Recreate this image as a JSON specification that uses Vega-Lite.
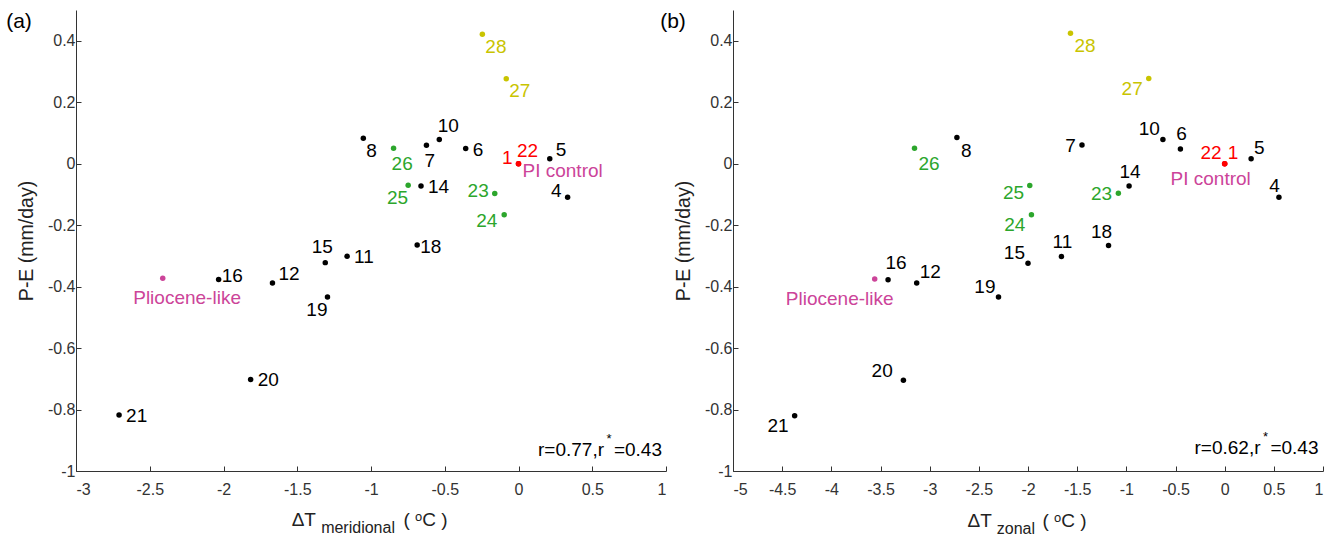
{
  "$schema": "https://vega.github.io/schema/vega-lite/v6.json",
  "autosize": {"type": "pad"},
  "padding": {"left": 6, "top": 10, "right": 5, "bottom": 5},
  "background": "white",
  "config": {
    "view": {"stroke": null},
    "font": "Liberation Sans",
    "text": {"font": "Liberation Sans"},
    "axis": {
      "grid": false,
      "domainColor": "#333333",
      "tickColor": "#333333",
      "labelColor": "#333333",
      "labelFont": "Liberation Sans",
      "labelFontSize": 16,
      "titleFont": "Liberation Sans",
      "titleFontSize": 19.5,
      "titleFontWeight": "normal",
      "titleColor": "#222222",
      "tickSize": -5
    }
  },
  "datasets": {
    "a": [
      {"label": "PI control", "dT": 0, "PE": 0, "series": "reference"},
      {"label": "1", "dT": 0, "PE": 0, "series": "control"},
      {"label": "22", "dT": 0, "PE": 0, "series": "control"},
      {"label": "4", "dT": 0.333, "PE": -0.109, "series": "experiments"},
      {"label": "5", "dT": 0.212, "PE": 0.016, "series": "experiments"},
      {"label": "6", "dT": -0.358, "PE": 0.049, "series": "experiments"},
      {"label": "7", "dT": -0.624, "PE": 0.060, "series": "experiments"},
      {"label": "8", "dT": -1.052, "PE": 0.083, "series": "experiments"},
      {"label": "10", "dT": -0.537, "PE": 0.079, "series": "experiments"},
      {"label": "11", "dT": -1.162, "PE": -0.301, "series": "experiments"},
      {"label": "12", "dT": -1.668, "PE": -0.388, "series": "experiments"},
      {"label": "14", "dT": -0.661, "PE": -0.073, "series": "experiments"},
      {"label": "15", "dT": -1.310, "PE": -0.322, "series": "experiments"},
      {"label": "16", "dT": -2.033, "PE": -0.377, "series": "experiments"},
      {"label": "18", "dT": -0.687, "PE": -0.265, "series": "experiments"},
      {"label": "19", "dT": -1.295, "PE": -0.434, "series": "experiments"},
      {"label": "20", "dT": -1.816, "PE": -0.702, "series": "experiments"},
      {"label": "21", "dT": -2.708, "PE": -0.818, "series": "experiments"},
      {"label": "23", "dT": -0.161, "PE": -0.097, "series": "group G"},
      {"label": "24", "dT": -0.097, "PE": -0.166, "series": "group G"},
      {"label": "25", "dT": -0.748, "PE": -0.070, "series": "group G"},
      {"label": "26", "dT": -0.847, "PE": 0.050, "series": "group G"},
      {"label": "27", "dT": -0.083, "PE": 0.276, "series": "group Y"},
      {"label": "28", "dT": -0.245, "PE": 0.421, "series": "group Y"},
      {"label": "Pliocene-like", "dT": -2.412, "PE": -0.373, "series": "reference"}
    ],
    "b": [
      {"label": "PI control", "dT": 0, "PE": 0, "series": "reference"},
      {"label": "1", "dT": 0, "PE": 0, "series": "control"},
      {"label": "22", "dT": 0, "PE": 0, "series": "control"},
      {"label": "4", "dT": 0.552, "PE": -0.109, "series": "experiments"},
      {"label": "5", "dT": 0.269, "PE": 0.016, "series": "experiments"},
      {"label": "6", "dT": -0.450, "PE": 0.048, "series": "experiments"},
      {"label": "7", "dT": -1.451, "PE": 0.061, "series": "experiments"},
      {"label": "8", "dT": -2.723, "PE": 0.085, "series": "experiments"},
      {"label": "10", "dT": -0.628, "PE": 0.079, "series": "experiments"},
      {"label": "11", "dT": -1.660, "PE": -0.302, "series": "experiments"},
      {"label": "12", "dT": -3.132, "PE": -0.388, "series": "experiments"},
      {"label": "14", "dT": -0.972, "PE": -0.073, "series": "experiments"},
      {"label": "15", "dT": -2.000, "PE": -0.324, "series": "experiments"},
      {"label": "16", "dT": -3.423, "PE": -0.378, "series": "experiments"},
      {"label": "18", "dT": -1.181, "PE": -0.266, "series": "experiments"},
      {"label": "19", "dT": -2.300, "PE": -0.434, "series": "experiments"},
      {"label": "20", "dT": -3.267, "PE": -0.705, "series": "experiments"},
      {"label": "21", "dT": -4.373, "PE": -0.820, "series": "experiments"},
      {"label": "23", "dT": -1.081, "PE": -0.096, "series": "group G"},
      {"label": "24", "dT": -1.965, "PE": -0.166, "series": "group G"},
      {"label": "25", "dT": -1.982, "PE": -0.071, "series": "group G"},
      {"label": "26", "dT": -3.154, "PE": 0.050, "series": "group G"},
      {"label": "27", "dT": -0.772, "PE": 0.277, "series": "group Y"},
      {"label": "28", "dT": -1.568, "PE": 0.424, "series": "group Y"},
      {"label": "Pliocene-like", "dT": -3.559, "PE": -0.375, "series": "reference"}
    ]
  },
  "spacing": 67,
  "bounds": "flush",
  "hconcat": [
    {
      "width": 590,
      "height": 461,
      "data": {"name": "a"},
      "encoding": {
        "x": {"field": "dT", "type": "quantitative", "scale": {"domain": [-3, 1], "nice": false, "zero": false},
          "axis": {"values": [-3, -2.5, -2, -1.5, -1, -0.5, 0, 0.5, 1], "labelExpr": "'' + datum.value", "title": null, "labelPadding": 15}},
        "y": {"field": "PE", "type": "quantitative", "scale": {"domain": [-1, 0.5], "nice": false, "zero": false},
          "axis": {"values": [-1, -0.8, -0.6, -0.4, -0.2, 0, 0.2, 0.4], "labelExpr": "'' + datum.value", "title": "P-E (mm/day)", "labelPadding": 6, "titlePadding": 11}}
      },
      "layer": [
        {"mark": {"type": "circle", "size": 30, "opacity": 1},
          "encoding": {"color": {"field": "series", "type": "nominal", "legend": null,
            "scale": {"domain": ["experiments", "group G", "group Y", "control", "reference"], "range": ["#000000", "#2ca62c", "#c9c400", "#ff0000", "#cc4499"]}}}},
        {"transform": [{"filter": {"field": "label", "oneOf": ["6", "14", "11", "20", "21"]}}],
          "mark": {"type": "text", "align": "left", "baseline": "middle", "dx": 7, "dy": 1, "fontSize": 19},
          "encoding": {"text": {"field": "label"}, "color": {"field": "series", "type": "nominal", "legend": null}}},
        {"transform": [{"filter": {"field": "label", "oneOf": ["18"]}}],
          "mark": {"type": "text", "align": "left", "baseline": "middle", "dx": 3, "dy": 2, "fontSize": 19},
          "encoding": {"text": {"field": "label"}, "color": {"field": "series", "type": "nominal", "legend": null}}},
        {"transform": [{"filter": {"field": "label", "oneOf": ["12", "5"]}}],
          "mark": {"type": "text", "align": "left", "baseline": "middle", "dx": 6, "dy": -9, "fontSize": 19},
          "encoding": {"text": {"field": "label"}, "color": {"field": "series", "type": "nominal", "legend": null}}},
        {"transform": [{"filter": {"field": "label", "oneOf": ["16"]}}],
          "mark": {"type": "text", "align": "left", "baseline": "middle", "dx": 3, "dy": -4, "fontSize": 19},
          "encoding": {"text": {"field": "label"}, "color": {"field": "series", "type": "nominal", "legend": null}}},
        {"transform": [{"filter": {"field": "label", "oneOf": ["28", "27", "8"]}}],
          "mark": {"type": "text", "align": "left", "baseline": "middle", "dx": 3, "dy": 12.5, "fontSize": 19},
          "encoding": {"text": {"field": "label"}, "color": {"field": "series", "type": "nominal", "legend": null}}},
        {"transform": [{"filter": {"field": "label", "oneOf": ["26", "7"]}}],
          "mark": {"type": "text", "align": "left", "baseline": "middle", "dx": -2, "dy": 15.5, "fontSize": 19},
          "encoding": {"text": {"field": "label"}, "color": {"field": "series", "type": "nominal", "legend": null}}},
        {"transform": [{"filter": {"field": "label", "oneOf": ["10", "22"]}}],
          "mark": {"type": "text", "align": "left", "baseline": "middle", "dx": -1.5, "dy": -13, "fontSize": 19},
          "encoding": {"text": {"field": "label"}, "color": {"field": "series", "type": "nominal", "legend": null}}},
        {"transform": [{"filter": {"field": "label", "oneOf": ["PI control"]}}],
          "mark": {"type": "text", "align": "left", "baseline": "middle", "dx": 4, "dy": 7, "fontSize": 19},
          "encoding": {"text": {"field": "label"}, "color": {"field": "series", "type": "nominal", "legend": null}}},
        {"transform": [{"filter": {"field": "label", "oneOf": ["1", "4"]}}],
          "mark": {"type": "text", "align": "right", "baseline": "middle", "dx": -6, "dy": -6, "fontSize": 19},
          "encoding": {"text": {"field": "label"}, "color": {"field": "series", "type": "nominal", "legend": null}}},
        {"transform": [{"filter": {"field": "label", "oneOf": ["23"]}}],
          "mark": {"type": "text", "align": "right", "baseline": "middle", "dx": -6, "dy": -2.3, "fontSize": 19},
          "encoding": {"text": {"field": "label"}, "color": {"field": "series", "type": "nominal", "legend": null}}},
        {"transform": [{"filter": {"field": "label", "oneOf": ["24"]}}],
          "mark": {"type": "text", "align": "right", "baseline": "middle", "dx": -6.8, "dy": 6, "fontSize": 19},
          "encoding": {"text": {"field": "label"}, "color": {"field": "series", "type": "nominal", "legend": null}}},
        {"transform": [{"filter": {"field": "label", "oneOf": ["25", "19"]}}],
          "mark": {"type": "text", "align": "right", "baseline": "middle", "dx": 0, "dy": 13, "fontSize": 19},
          "encoding": {"text": {"field": "label"}, "color": {"field": "series", "type": "nominal", "legend": null}}},
        {"transform": [{"filter": {"field": "label", "oneOf": ["15"]}}],
          "mark": {"type": "text", "align": "center", "baseline": "middle", "dx": -3, "dy": -16, "fontSize": 19},
          "encoding": {"text": {"field": "label"}, "color": {"field": "series", "type": "nominal", "legend": null}}},
        {"transform": [{"filter": {"field": "label", "oneOf": ["Pliocene-like"]}}],
          "mark": {"type": "text", "align": "left", "baseline": "middle", "dx": -29.5, "dy": 20, "fontSize": 19},
          "encoding": {"text": {"field": "label"}, "color": {"field": "series", "type": "nominal", "legend": null}}},
        {"transform": [{"filter": "datum.label === 'PI control'"}],
          "mark": {"type": "text", "align": "center", "baseline": "middle", "dx": -57, "dy": 11.5, "fontSize": 21, "color": "#000000"},
          "encoding": {"x": {"datum": -3}, "y": {"datum": 0.5}, "text": {"value": "(a)"}}},
        {"transform": [{"filter": "datum.label === 'PI control'"}],
          "mark": {"type": "text", "align": "right", "baseline": "alphabetic", "dx": -4, "dy": -15, "fontSize": 19, "color": "#000000"},
          "encoding": {"x": {"datum": 1}, "y": {"datum": -1}, "text": {"value": "=0.43"}}},
        {"transform": [{"filter": "datum.label === 'PI control'"}],
          "mark": {"type": "text", "align": "center", "baseline": "alphabetic", "dx": -57, "dy": -28, "fontSize": 13, "color": "#000000"},
          "encoding": {"x": {"datum": 1}, "y": {"datum": -1}, "text": {"value": "*"}}},
        {"transform": [{"filter": "datum.label === 'PI control'"}],
          "mark": {"type": "text", "align": "right", "baseline": "alphabetic", "dx": -62, "dy": -15, "fontSize": 19, "color": "#000000"},
          "encoding": {"x": {"datum": 1}, "y": {"datum": -1}, "text": {"value": "r=0.77,r"}}},
        {"transform": [{"filter": "datum.label === 'PI control'"}],
          "mark": {"type": "text", "align": "left", "baseline": "alphabetic", "dy": 54.7, "fontSize": 19, "color": "#222222"},
          "encoding": {"x": {"datum": -1.538}, "y": {"datum": -1}, "text": {"value": "ΔT"}}},
        {"transform": [{"filter": "datum.label === 'PI control'"}],
          "mark": {"type": "text", "align": "left", "baseline": "alphabetic", "dy": 62, "fontSize": 16, "color": "#222222"},
          "encoding": {"x": {"datum": -1.338}, "y": {"datum": -1}, "text": {"value": "meridional"}}},
        {"transform": [{"filter": "datum.label === 'PI control'"}],
          "mark": {"type": "text", "align": "left", "baseline": "alphabetic", "dy": 54.7, "fontSize": 19, "color": "#222222"},
          "encoding": {"x": {"datum": -0.78}, "y": {"datum": -1}, "text": {"value": "( ᵒC )"}}}
      ]
    },
    {
      "width": 590,
      "height": 461,
      "data": {"name": "b"},
      "encoding": {
        "x": {"field": "dT", "type": "quantitative", "scale": {"domain": [-5, 1], "nice": false, "zero": false},
          "axis": {"values": [-5, -4.5, -4, -3.5, -3, -2.5, -2, -1.5, -1, -0.5, 0, 0.5, 1], "labelExpr": "'' + datum.value", "title": null, "labelPadding": 15}},
        "y": {"field": "PE", "type": "quantitative", "scale": {"domain": [-1, 0.5], "nice": false, "zero": false},
          "axis": {"values": [-1, -0.8, -0.6, -0.4, -0.2, 0, 0.2, 0.4], "labelExpr": "'' + datum.value", "title": "P-E (mm/day)", "labelPadding": 6, "titlePadding": 11}}
      },
      "layer": [
        {"mark": {"type": "circle", "size": 30, "opacity": 1},
          "encoding": {"color": {"field": "series", "type": "nominal", "legend": null,
            "scale": {"domain": ["experiments", "group G", "group Y", "control", "reference"], "range": ["#000000", "#2ca62c", "#c9c400", "#ff0000", "#cc4499"]}}}},
        {"transform": [{"filter": {"field": "label", "oneOf": ["28", "8"]}}],
          "mark": {"type": "text", "align": "left", "baseline": "middle", "dx": 4, "dy": 13, "fontSize": 19},
          "encoding": {"text": {"field": "label"}, "color": {"field": "series", "type": "nominal", "legend": null}}},
        {"transform": [{"filter": {"field": "label", "oneOf": ["26"]}}],
          "mark": {"type": "text", "align": "left", "baseline": "middle", "dx": 4, "dy": 16, "fontSize": 19},
          "encoding": {"text": {"field": "label"}, "color": {"field": "series", "type": "nominal", "legend": null}}},
        {"transform": [{"filter": {"field": "label", "oneOf": ["27", "24", "21"]}}],
          "mark": {"type": "text", "align": "right", "baseline": "middle", "dx": -6, "dy": 10, "fontSize": 19},
          "encoding": {"text": {"field": "label"}, "color": {"field": "series", "type": "nominal", "legend": null}}},
        {"transform": [{"filter": {"field": "label", "oneOf": ["25"]}}],
          "mark": {"type": "text", "align": "right", "baseline": "middle", "dx": -5.6, "dy": 7.3, "fontSize": 19},
          "encoding": {"text": {"field": "label"}, "color": {"field": "series", "type": "nominal", "legend": null}}},
        {"transform": [{"filter": {"field": "label", "oneOf": ["7", "23"]}}],
          "mark": {"type": "text", "align": "right", "baseline": "middle", "dx": -6.2, "dy": 1, "fontSize": 19},
          "encoding": {"text": {"field": "label"}, "color": {"field": "series", "type": "nominal", "legend": null}}},
        {"transform": [{"filter": {"field": "label", "oneOf": ["10", "22", "15", "19"]}}],
          "mark": {"type": "text", "align": "right", "baseline": "middle", "dx": -3, "dy": -10.5, "fontSize": 19},
          "encoding": {"text": {"field": "label"}, "color": {"field": "series", "type": "nominal", "legend": null}}},
        {"transform": [{"filter": {"field": "label", "oneOf": ["4"]}}],
          "mark": {"type": "text", "align": "right", "baseline": "middle", "dx": 1, "dy": -11, "fontSize": 19},
          "encoding": {"text": {"field": "label"}, "color": {"field": "series", "type": "nominal", "legend": null}}},
        {"transform": [{"filter": {"field": "label", "oneOf": ["6", "14", "11"]}}],
          "mark": {"type": "text", "align": "center", "baseline": "middle", "dx": 1, "dy": -14.5, "fontSize": 19},
          "encoding": {"text": {"field": "label"}, "color": {"field": "series", "type": "nominal", "legend": null}}},
        {"transform": [{"filter": {"field": "label", "oneOf": ["18"]}}],
          "mark": {"type": "text", "align": "center", "baseline": "middle", "dx": -7, "dy": -13.3, "fontSize": 19},
          "encoding": {"text": {"field": "label"}, "color": {"field": "series", "type": "nominal", "legend": null}}},
        {"transform": [{"filter": {"field": "label", "oneOf": ["20"]}}],
          "mark": {"type": "text", "align": "right", "baseline": "middle", "dx": -10.7, "dy": -9.7, "fontSize": 19},
          "encoding": {"text": {"field": "label"}, "color": {"field": "series", "type": "nominal", "legend": null}}},
        {"transform": [{"filter": {"field": "label", "oneOf": ["16"]}}],
          "mark": {"type": "text", "align": "center", "baseline": "middle", "dx": 8, "dy": -17, "fontSize": 19},
          "encoding": {"text": {"field": "label"}, "color": {"field": "series", "type": "nominal", "legend": null}}},
        {"transform": [{"filter": {"field": "label", "oneOf": ["1", "5", "12"]}}],
          "mark": {"type": "text", "align": "left", "baseline": "middle", "dx": 3, "dy": -11, "fontSize": 19},
          "encoding": {"text": {"field": "label"}, "color": {"field": "series", "type": "nominal", "legend": null}}},
        {"transform": [{"filter": {"field": "label", "oneOf": ["PI control"]}}],
          "mark": {"type": "text", "align": "center", "baseline": "middle", "dx": -14, "dy": 15, "fontSize": 19},
          "encoding": {"text": {"field": "label"}, "color": {"field": "series", "type": "nominal", "legend": null}}},
        {"transform": [{"filter": {"field": "label", "oneOf": ["Pliocene-like"]}}],
          "mark": {"type": "text", "align": "center", "baseline": "middle", "dx": -35, "dy": 20, "fontSize": 19},
          "encoding": {"text": {"field": "label"}, "color": {"field": "series", "type": "nominal", "legend": null}}},
        {"transform": [{"filter": "datum.label === 'PI control'"}],
          "mark": {"type": "text", "align": "center", "baseline": "middle", "dx": -60, "dy": 11.5, "fontSize": 21, "color": "#000000"},
          "encoding": {"x": {"datum": -5}, "y": {"datum": 0.5}, "text": {"value": "(b)"}}},
        {"transform": [{"filter": "datum.label === 'PI control'"}],
          "mark": {"type": "text", "align": "right", "baseline": "alphabetic", "dx": -4.5, "dy": -17, "fontSize": 19, "color": "#000000"},
          "encoding": {"x": {"datum": 1}, "y": {"datum": -1}, "text": {"value": "=0.43"}}},
        {"transform": [{"filter": "datum.label === 'PI control'"}],
          "mark": {"type": "text", "align": "center", "baseline": "alphabetic", "dx": -57.5, "dy": -30, "fontSize": 13, "color": "#000000"},
          "encoding": {"x": {"datum": 1}, "y": {"datum": -1}, "text": {"value": "*"}}},
        {"transform": [{"filter": "datum.label === 'PI control'"}],
          "mark": {"type": "text", "align": "right", "baseline": "alphabetic", "dx": -62.5, "dy": -17, "fontSize": 19, "color": "#000000"},
          "encoding": {"x": {"datum": 1}, "y": {"datum": -1}, "text": {"value": "r=0.62,r"}}},
        {"transform": [{"filter": "datum.label === 'PI control'"}],
          "mark": {"type": "text", "align": "left", "baseline": "alphabetic", "dy": 55.5, "fontSize": 19, "color": "#222222"},
          "encoding": {"x": {"datum": -2.615}, "y": {"datum": -1}, "text": {"value": "ΔT"}}},
        {"transform": [{"filter": "datum.label === 'PI control'"}],
          "mark": {"type": "text", "align": "left", "baseline": "alphabetic", "dy": 63, "fontSize": 16, "color": "#222222"},
          "encoding": {"x": {"datum": -2.318}, "y": {"datum": -1}, "text": {"value": "zonal"}}},
        {"transform": [{"filter": "datum.label === 'PI control'"}],
          "mark": {"type": "text", "align": "left", "baseline": "alphabetic", "dy": 55.5, "fontSize": 19, "color": "#222222"},
          "encoding": {"x": {"datum": -1.853}, "y": {"datum": -1}, "text": {"value": "( ᵒC )"}}}
      ]
    }
  ]
}
